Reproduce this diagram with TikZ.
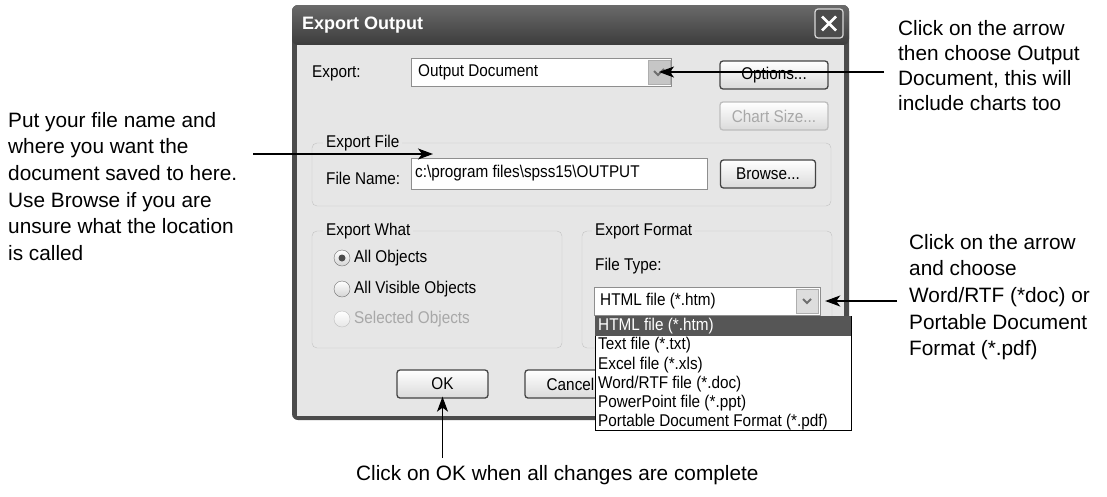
\documentclass[tikz,border=0pt]{standalone}
\usepackage{fontspec}
\setmainfont{Liberation Sans}
\newfontfamily\uifont[FakeStretch=0.9]{Liberation Sans}
\usepackage{tikz}
\usetikzlibrary{arrows.meta, positioning}

\definecolor{winframe}{HTML}{4B4B4B}
\definecolor{titletop}{HTML}{6A6A6A}
\definecolor{titlebot}{HTML}{3C3C3C}
\definecolor{body}{HTML}{E6E6E6}
\definecolor{grpline}{HTML}{C2C2C2}
\definecolor{fieldline}{HTML}{8E8E8E}
\definecolor{btnline}{HTML}{444444}
\definecolor{btnbot}{HTML}{DADADA}
\definecolor{offline}{HTML}{BDBDBD}
\definecolor{offtext}{HTML}{A8A8A8}
\definecolor{dropfill}{HTML}{C6C6C6}
\definecolor{dropline}{HTML}{AEAEAE}
\definecolor{chevcol}{HTML}{6E6E6E}
\definecolor{radiobot}{HTML}{D4D4D4}
\definecolor{listsel}{HTML}{565656}

\begin{document}
\begin{tikzpicture}[x=1pt,y=-1pt,
    ui/.style={font=\uifont\fontsize{17}{20}\selectfont,inner sep=0pt,anchor=west},
    off/.style={ui,text=offtext},
    grp/.style={draw=grpline,rounded corners=5pt},
    grplabel/.style={ui,fill=body,inner xsep=3pt},
    field/.style={draw=fieldline,fill=white,inner sep=0pt},
    btn/.style={draw=btnline,line width=1.3pt,rounded corners=3pt,top color=white,bottom color=btnbot,
      font=\uifont\fontsize{17}{20}\selectfont,minimum height=28pt,inner sep=0pt},
    dropbtn/.style={draw=dropline,fill=dropfill,minimum width=22pt,minimum height=24pt,inner sep=0pt},
    chev/.style={draw=chevcol,line width=2pt},
    radio/.style={circle,draw=chevcol,top color=white,bottom color=radiobot,minimum size=16pt,inner sep=0pt},
    note/.style={font=\fontsize{20.8}{26.6}\selectfont,align=left,inner sep=0pt,anchor=north west},
    callout/.style={line width=1.3pt,-{Stealth[length=15pt,width=11pt,inset=4pt]}}]
  \useasboundingbox (0,0) rectangle (1107,496);

  % window frame and title bar
  \fill[winframe,rounded corners=6pt] (292,5) rectangle (849,420);
  \shade[top color=titletop,bottom color=titlebot,rounded corners=6pt] (292,5) rectangle (849,45);
  \fill[body] (297,45) rectangle (844,416);
  \node[font=\bfseries\fontsize{18}{20}\selectfont,text=white,anchor=west,inner sep=0pt] (title) at (302,25) {Export Output};
  \node[draw=white!85!black,line width=1.2pt,rounded corners=3pt,fill=winframe,minimum width=28pt,minimum height=29pt,inner sep=0pt] (btn_close) at (829,23.5) {};
  \draw[white,line width=2.6pt] (btn_close.center) ++(-7,-7) -- ++(14,14) (btn_close.center) ++(7,-7) -- ++(-14,14);

  % export row
  \node[ui] (lbl_exp) at (312,73) {Export:};
  \node[field,minimum width=260pt,minimum height=28pt] (combo_exp) at (541,72) {};
  \node[ui] (txt_exp) at (418,72) {Output Document};
  \node[dropbtn] (drop_exp) at (659,72) {};
  \draw[chev] (drop_exp.center) ++(-5,-1) -- ++(4,4) -- ++(6,-6);
  \node[btn,minimum width=108pt] (btn_opt) at (774,75) {Options...};
  \node[btn,draw=offline,text=offtext,minimum width=108pt] (btn_chart) at (774,116) {Chart Size...};

  % export file
  \draw[grp] (312,143) rectangle (831,206);
  \node[grplabel] (grp_file) at (323,143) {Export File};
  \node[ui] (lbl_fn) at (326,178) {File Name:};
  \node[field,minimum width=296pt,minimum height=31pt] (field_fn) at (559,174) {};
  \node[ui] (txt_fn) at (415,173) {c:\textbackslash program files\textbackslash spss15\textbackslash OUTPUT};
  \node[btn,minimum width=95pt] (btn_browse) at (768,174) {Browse...};

  % export what
  \draw[grp] (312,231) rectangle (562,348);
  \node[grplabel] (grp_what) at (323,231) {Export What};
  \node[radio] (rad_all) at (342,258) {};
  \fill[chevcol!70!black] (rad_all.center) circle (3.5);
  \node[ui] (txt_all) at (354,258) {All Objects};
  \node[radio] (rad_vis) at (342,289) {};
  \node[ui] (txt_vis) at (354,289) {All Visible Objects};
  \node[radio,draw=offline,bottom color=body] (rad_sel) at (342,319) {};
  \node[off] (txt_sel) at (354,319) {Selected Objects};

  % export format
  \draw[grp] (582,231) rectangle (832,348);
  \node[grplabel] (grp_fmt) at (592,231) {Export Format};
  \node[ui] (lbl_type) at (595,266) {File Type:};
  \node[field,minimum width=226pt,minimum height=28pt] (combo_type) at (707,301) {};
  \node[ui] (txt_type) at (600,301) {HTML file (*.htm)};
  \node[dropbtn,fill=dropfill!60] (drop_type) at (807,301) {};
  \draw[chev,line width=1.8pt] (drop_type.center) ++(-4,-2) -- ++(4,4) -- ++(4,-4);

  \node[btn,minimum width=91pt] (btn_ok) at (442.5,384) {OK};
  \node[btn,minimum width=91pt] (btn_cancel) at (570.5,384) {Cancel};

  % open list of file types
  \node[draw=black,fill=white,minimum width=256pt,minimum height=114pt,inner sep=0pt,anchor=north west] (list_type) at (595,316) {};
  \fill[listsel] (list_type.north west) rectangle ++(256,20);
  \node[ui,text=white] (item_0) at (598,326) {HTML file (*.htm)};
  \foreach \ftype [count=\i] in {Text file (*.txt),Excel file (*.xls),Word/RTF file (*.doc),
      PowerPoint file (*.ppt),Portable Document Format (*.pdf)}
    \node[ui] (item_\i) at (598,326+19.3*\i) {\ftype};

  % notes
  \node[note,font=\fontsize{20.8}{25}\selectfont] (note_exp) at (898,20) {Click on the arrow\\then choose Output\\Document, this will\\include charts too};
  \node[note] (note_fn) at (8,112) {Put your file name and\\where you want the\\document saved to here.\\Use Browse if you are\\unsure what the location\\is called};
  \node[note] (note_type) at (909,234) {Click on the arrow\\and choose\\Word/RTF (*doc) or\\Portable Document\\Format (*.pdf)};
  \node[note,anchor=base west] (note_ok) at (356,480) {Click on OK when all changes are complete};

  \coordinate (from_exp) at (884,72);
  \coordinate (from_fn) at (253,154);
  \coordinate (to_fn) at (433,154);
  \coordinate (from_type) at (897,301);
  \coordinate (from_ok) at (442.5,458);
  \path[callout]
    (from_exp) edge (drop_exp.center)
    (from_fn) edge (to_fn)
    (from_type) edge ([xshift=7pt]drop_type.east)
    (from_ok) edge ([yshift=2pt]btn_ok.south);
\end{tikzpicture}
\end{document}
